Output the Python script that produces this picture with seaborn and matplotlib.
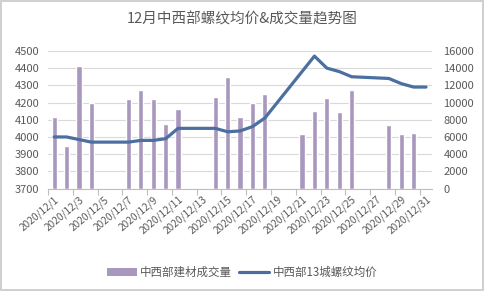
import matplotlib
matplotlib.use("Agg")
import matplotlib.pyplot as plt
import seaborn as sns
import pandas as pd
from matplotlib.patches import Patch
from matplotlib.lines import Line2D

# ---- data ----
vol_days = [1, 2, 3, 4, 7, 8, 9, 10, 11, 14, 15, 16, 17, 18, 21, 22, 23, 24, 25, 28, 29, 30]
volume = [8300, 4900, 14300, 9900, 10400, 11500, 10400, 7500, 9300, 10650, 13000, 8300,
          9950, 11050, 6300, 9050, 10550, 8950, 11500, 7400, 6350, 6450]
price_days = [1, 2, 3, 4, 7, 8, 9, 10, 11, 14, 15, 16, 17, 18, 21, 22, 23, 24, 25, 28, 29, 30, 31]
price = [4000, 4000, 3985, 3970, 3970, 3980, 3980, 3990, 4050, 4050, 4030, 4035, 4060, 4110,
         4380, 4470, 4400, 4380, 4350, 4340, 4310, 4290, 4290]
label_days = list(range(1, 32, 2))
tick_labels = [f"2020/12/{d}" for d in label_days]
title = "12月中西部螺纹均价&成交量趋势图"
bar_name = "中西部建材成交量"
line_name = "中西部13城螺纹均价"

sns.set_theme(style="white")
plt.rcParams['font.family'] = ['Noto Sans CJK SC', 'DejaVu Sans']

bar_color = "#A898BE"
line_color = "#4A6FA0"
text_color = "#595959"
grid_color = "#D9D9D9"

fig = plt.figure(figsize=(4.84, 2.91), dpi=100)
fig.patch.set_facecolor("white")
fig.patch.set_edgecolor("#D0D0D0")
fig.patch.set_linewidth(1.5)

ax2 = fig.add_axes([0.099, 0.352, 0.794, 0.473])  # right axis (volume)
ax = ax2.twinx()
ax.yaxis.tick_left()
ax.yaxis.set_label_position("left")
ax2.yaxis.tick_right()
ax2.yaxis.set_label_position("right")
ax.set_zorder(ax2.get_zorder() + 1)
ax.patch.set_visible(False)

df_v = pd.DataFrame({"day": vol_days, "volume": volume})
df_p = pd.DataFrame({"day": price_days, "price": price})

sns.barplot(data=df_v, x="day", y="volume", native_scale=True, width=0.42,
            color=bar_color, saturation=1, ax=ax2, zorder=2)
sns.lineplot(data=df_p, x="day", y="price", color=line_color, linewidth=2.3, ax=ax)

ax2.set_ylim(0, 16000)
ax2.set_yticks(range(0, 16001, 2000))
ax.set_ylim(3700, 4500)
ax.set_yticks(range(3700, 4501, 100))
ax.set_xlim(0.5, 31.5)
ax2.set_xlim(0.5, 31.5)

ax2.set_axisbelow(True)
ax2.yaxis.grid(True, color=grid_color, linewidth=0.8)
ax2.xaxis.grid(False)
ax.grid(False)

for a in (ax, ax2):
    a.set_xlabel("")
    a.set_ylabel("")
    for s in ("top", "left", "right"):
        a.spines[s].set_visible(False)
    a.spines["bottom"].set_visible(False)
    a.tick_params(axis="y", length=0, labelsize=8, labelcolor=text_color)
ax2.spines["bottom"].set_visible(True)
ax2.spines["bottom"].set_color("#BFBFBF")
ax2.spines["bottom"].set_linewidth(0.8)
ax.tick_params(axis="y", pad=6)
ax2.tick_params(axis="y", pad=8)

ax.set_xticks([])
ax2.set_xticks(label_days)
ax2.set_xticklabels(tick_labels, rotation=40, ha="right", rotation_mode="anchor",
                    fontsize=7.3, color=text_color)
ax2.set_xticks([d - 0.5 for d in label_days], minor=True)
ax2.tick_params(axis="x", which="major", length=0, pad=4)
ax2.tick_params(axis="x", which="minor", length=4, color="#BFBFBF", width=0.8, bottom=True)
ax2.tick_params(axis="x", which="major", bottom=True)

fig.text(0.5, 0.935, title, ha="center", va="center", fontsize=10.5, color=text_color)

handles = [Patch(facecolor=bar_color, edgecolor="none"),
           Line2D([0], [0], color=line_color, linewidth=2.3)]
fig.legend(handles, [bar_name, line_name], loc="center", bbox_to_anchor=(0.5, 0.065),
           ncol=2, frameon=False, fontsize=8.3, labelcolor=text_color,
           handlelength=2.6, handletextpad=0.3, columnspacing=0.6)

fig.savefig("out.png", dpi=100, facecolor=fig.get_facecolor(), edgecolor=fig.get_edgecolor())
